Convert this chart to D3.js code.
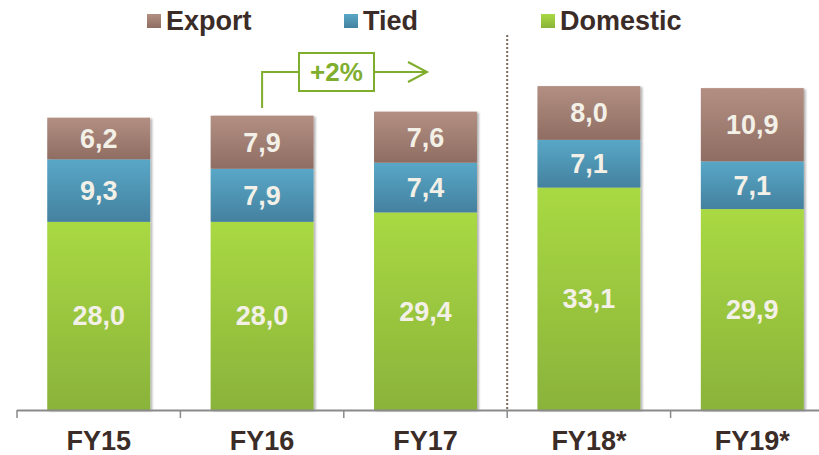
<!DOCTYPE html>
<html>
<head>
<meta charset="utf-8">
<script src="https://cdn.jsdelivr.net/npm/d3@7"></script>
<style>
  html, body { margin: 0; padding: 0; background: #fff; }
  svg { display: block; font-family: "Liberation Sans", Arial, sans-serif; }
</style>
</head>
<body>
<svg id="chart" width="819" height="455"></svg>
<script>
const categories = ["FY15", "FY16", "FY17", "FY18*", "FY19*"];
const seriesNames = ["Domestic", "Tied", "Export"];
const domestic = [28.0, 28.0, 29.4, 33.1, 29.9];
const tied = [9.3, 7.9, 7.4, 7.1, 7.1];
const exportVals = [6.2, 7.9, 7.6, 8.0, 10.9];
const legendOrder = ["Export", "Tied", "Domestic"];
const annotationText = "+2%";
const fmt = v => v.toFixed(1).replace(".", ",");

const svg = d3.select("#chart");
const baseY = 410;

const x = d3.scaleBand().domain(categories).range([17, 834]).paddingInner(0.37).paddingOuter(0.185);
const y = d3.scaleLinear().domain([0, 50]).range([baseY, baseY - 336]);

const table = categories.map((c, i) => ({ cat: c, Domestic: domestic[i], Tied: tied[i], Export: exportVals[i] }));
const stack = d3.stack().keys(seriesNames)(table);

const colors = {
  Export: ["#b38f83", "#8f6d62"],
  Tied: ["#59a7c7", "#44819f"],
  Domestic: ["#a9d943", "#8ab33a"]
};

const defs = svg.append("defs");
Object.entries(colors).forEach(([k, [c1, c2]]) => {
  const g = defs.append("linearGradient").attr("id", "g-" + k).attr("x1", 0).attr("y1", 0).attr("x2", 0).attr("y2", 1);
  g.append("stop").attr("offset", "0%").attr("stop-color", c1);
  g.append("stop").attr("offset", "100%").attr("stop-color", c2);
});
const f = defs.append("filter").attr("id", "shadow").attr("x", "-10%").attr("y", "-10%").attr("width", "130%").attr("height", "130%");
f.append("feDropShadow").attr("dx", 2).attr("dy", 1).attr("stdDeviation", 1.2).attr("flood-color", "#000").attr("flood-opacity", 0.3);

// separator
const step = x.step();
const sepX = x("FY18*") - x.paddingInner() * step / 2;
svg.append("line").attr("x1", sepX).attr("x2", sepX).attr("y1", 35).attr("y2", baseY)
  .attr("stroke", "#7b6a5c").attr("stroke-width", 2).attr("stroke-dasharray", "2,2");

// bars
const barsG = svg.append("g").attr("filter", "url(#shadow)");
stack.forEach(layer => {
  barsG.selectAll(null).data(layer).enter().append("rect")
    .attr("x", d => x(d.data.cat))
    .attr("width", x.bandwidth())
    .attr("y", d => y(d[1]))
    .attr("height", d => y(d[0]) - y(d[1]))
    .attr("fill", "url(#g-" + layer.key + ")");
});

// value labels
stack.forEach(layer => {
  svg.selectAll(null).data(layer).enter().append("text")
    .attr("x", d => x(d.data.cat) + x.bandwidth() / 2)
    .attr("y", d => (y(d[0]) + y(d[1])) / 2)
    .attr("dy", "0.35em")
    .attr("text-anchor", "middle")
    .attr("font-size", 27).attr("font-weight", "bold")
    .attr("fill", "#f3f0e7")
    .text(d => fmt(d.data[layer.key]));
});

// axis
const axisG = svg.append("g");
axisG.append("line").attr("x1", 17).attr("x2", 834).attr("y1", baseY + 0.5).attr("y2", baseY + 0.5)
  .attr("stroke", "#8a8a8a").attr("stroke-width", 2);
categories.forEach(c => {
  const tx = x(c) - x.paddingInner() * step / 2;
  axisG.append("line").attr("x1", tx).attr("x2", tx).attr("y1", baseY).attr("y2", baseY + 8)
    .attr("stroke", "#8a8a8a").attr("stroke-width", 1.5);
});
axisG.selectAll(null).data(categories).enter().append("text")
  .attr("x", d => x(d) + x.bandwidth() / 2)
  .attr("y", 450)
  .attr("text-anchor", "middle")
  .attr("font-size", 27).attr("font-weight", "bold")
  .attr("fill", "#3b2c28")
  .text(d => d);

// legend
const legendX = { Export: 147, Tied: 344, Domestic: 541 };
legendOrder.forEach(k => {
  svg.append("rect").attr("x", legendX[k]).attr("y", 14).attr("width", 14).attr("height", 14)
    .attr("fill", "url(#g-" + k + ")");
  svg.append("text").attr("x", legendX[k] + 19).attr("y", 30)
    .attr("font-size", 27).attr("font-weight", "bold").attr("fill", "#3b2c28").text(k);
});

// +2% annotation
const green = "#7fae2e";
const cx16 = x("FY16") + x.bandwidth() / 2;
const ann = svg.append("g").attr("stroke", green).attr("stroke-width", 2).attr("fill", "none");
ann.append("path").attr("d", `M${cx16},108 V72 H299`);
ann.append("rect").attr("x", 299).attr("y", 53).attr("width", 75).attr("height", 38);
ann.append("path").attr("d", "M374,72 H427");
ann.append("path").attr("d", "M408,62 L427,72 L408,82");
svg.append("text").attr("x", 336.5).attr("y", 72).attr("dy", "0.36em").attr("text-anchor", "middle")
  .attr("font-size", 26).attr("font-weight", "bold").attr("fill", green).text(annotationText);
</script>
</body>
</html>
